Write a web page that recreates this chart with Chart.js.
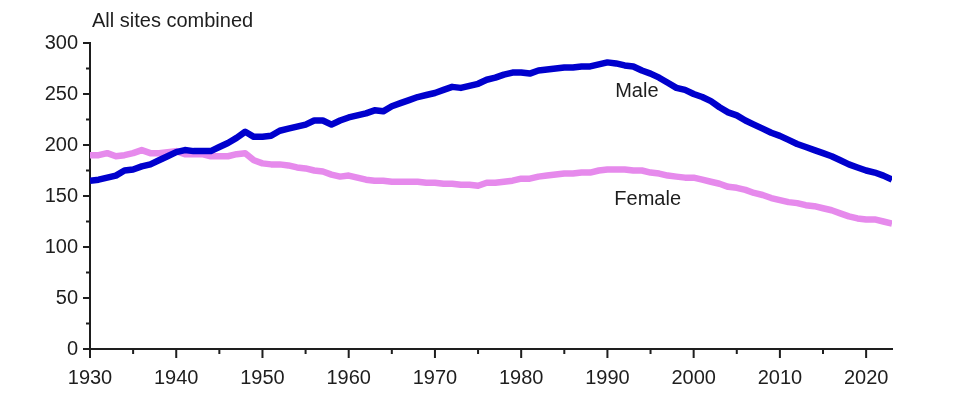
<!DOCTYPE html>
<html>
<head>
<meta charset="utf-8">
<script src="https://cdn.jsdelivr.net/npm/chart.js@4"></script>
<style>
html,body{margin:0;padding:0;background:#fff;}
#wrap{width:960px;height:404px;position:relative;}
</style>
</head>
<body>
<div id="wrap"><canvas id="lineChart"></canvas></div>
<script>
// DATA

const years = [
1930,1931,1932,1933,1934,1935,1936,1937,1938,1939,
1940,1941,1942,1943,1944,1945,1946,1947,1948,1949,
1950,1951,1952,1953,1954,1955,1956,1957,1958,1959,
1960,1961,1962,1963,1964,1965,1966,1967,1968,1969,
1970,1971,1972,1973,1974,1975,1976,1977,1978,1979,
1980,1981,1982,1983,1984,1985,1986,1987,1988,1989,
1990,1991,1992,1993,1994,1995,1996,1997,1998,1999,
2000,2001,2002,2003,2004,2005,2006,2007,2008,2009,
2010,2011,2012,2013,2014,2015,2016,2017,2018,2019,
2020,2021,2022,2023
];

const male = [
165,166,168,170,175,176,179,181,185,189,
193,195,194,194,194,198,202,207,213,208,
208,209,214,216,218,220,224,224,220,224,
227,229,231,234,233,238,241,244,247,249,
251,254,257,256,258,260,264,266,269,271,
271,270,273,274,275,276,276,277,277,279,
281,280,278,277,273,270,266,261,256,254,
250,247,243,237,232,229,224,220,216,212,
209,205,201,198,195,192,189,185,181,178,
175,173,170,166
];

const female = [
190,190,192,189,190,192,195,192,192,193,
194,191,191,191,189,189,189,191,192,185,
182,181,181,180,178,177,175,174,171,169,
170,168,166,165,165,164,164,164,164,163,
163,162,162,161,161,160,163,163,164,165,
167,167,169,170,171,172,172,173,173,175,
176,176,176,175,175,173,172,170,169,168,
168,166,164,162,159,158,156,153,151,148,
146,144,143,141,140,138,136,133,130,128,
127,127,125,123
];

const xTicks = [1930,1940,1950,1960,1970,1980,1990,2000,2010,2020];
const xMinorTicks = [1935,1945,1955,1965,1975,1985,1995,2005,2015];
const yTicks = [0,50,100,150,200,250,300];
const yMinorTicks = [25,75,125,175,225,275];

// STYLE

const axisColor = "#1e1e1e";
const textColor = "#1e1e1e";
const fontFamily = '"Liberation Sans", Arial, sans-serif';

Chart.defaults.font.family = fontFamily;
Chart.defaults.font.size = 20;
Chart.defaults.color = textColor;

// TICK MARKS + TEXT

const decorPlugin = {
id:"decor",
afterDraw(chart){
const ctx = chart.ctx;
const xs = chart.scales.x;
const ys = chart.scales.y;
const area = chart.chartArea;

ctx.save();
ctx.strokeStyle = axisColor;
ctx.lineWidth = 2;
ctx.beginPath();
xTicks.forEach(v => {
let px = xs.getPixelForValue(v);
ctx.moveTo(px, area.bottom);
ctx.lineTo(px, area.bottom + 9);
});
xMinorTicks.forEach(v => {
let px = xs.getPixelForValue(v);
ctx.moveTo(px, area.bottom);
ctx.lineTo(px, area.bottom + 5);
});
yTicks.forEach(v => {
let py = ys.getPixelForValue(v);
ctx.moveTo(area.left, py);
ctx.lineTo(area.left - 7, py);
});
yMinorTicks.forEach(v => {
let py = ys.getPixelForValue(v);
ctx.moveTo(area.left, py);
ctx.lineTo(area.left - 4, py);
});
ctx.stroke();

ctx.fillStyle = textColor;
ctx.font = "20px " + fontFamily;
ctx.textAlign = "left";
ctx.textBaseline = "alphabetic";
ctx.fillText("All sites combined", area.left + 2, 27);
ctx.fillText("Male", xs.getPixelForValue(1990.9), ys.getPixelForValue(247));
ctx.fillText("Female", xs.getPixelForValue(1990.8), ys.getPixelForValue(141));
ctx.restore();
}
};

// LINE CHART

new Chart(
document.getElementById("lineChart"),
{
type:"line",
data:{
datasets:[
{
label:"Male",
data:years.map((y,i) => ({x:y, y:male[i]})),
borderColor:"#0000cd",
borderWidth:6.5,
borderJoinStyle:"round",
pointRadius:0,
tension:0,
fill:false
},
{
label:"Female",
data:years.map((y,i) => ({x:y, y:female[i]})),
borderColor:"#e68aec",
borderWidth:6.5,
borderJoinStyle:"round",
pointRadius:0,
tension:0,
fill:false
}
]
},
options:{
responsive:true,
maintainAspectRatio:false,
animation:false,
layout:{padding:{top:43,right:68,left:0,bottom:0}},
plugins:{
legend:{display:false},
tooltip:{enabled:false}
},
scales:{
x:{
type:"linear",
min:1930,
max:2023,
afterBuildTicks:s => { s.ticks = xTicks.map(v => ({value:v})); },
afterFit:s => { s.height = 55; },
grid:{display:false, drawTicks:false},
border:{display:true, color:axisColor, width:2},
ticks:{padding:17, maxRotation:0, autoSkip:false, callback:v => String(v)}
},
y:{
min:0,
max:300,
afterBuildTicks:s => { s.ticks = yTicks.map(v => ({value:v})); },
afterFit:s => { s.width = 90; },
grid:{display:false, drawTicks:false},
border:{display:true, color:axisColor, width:2},
ticks:{padding:12, autoSkip:false}
}
}
},
plugins:[decorPlugin]
}
);
</script>
</body>
</html>
